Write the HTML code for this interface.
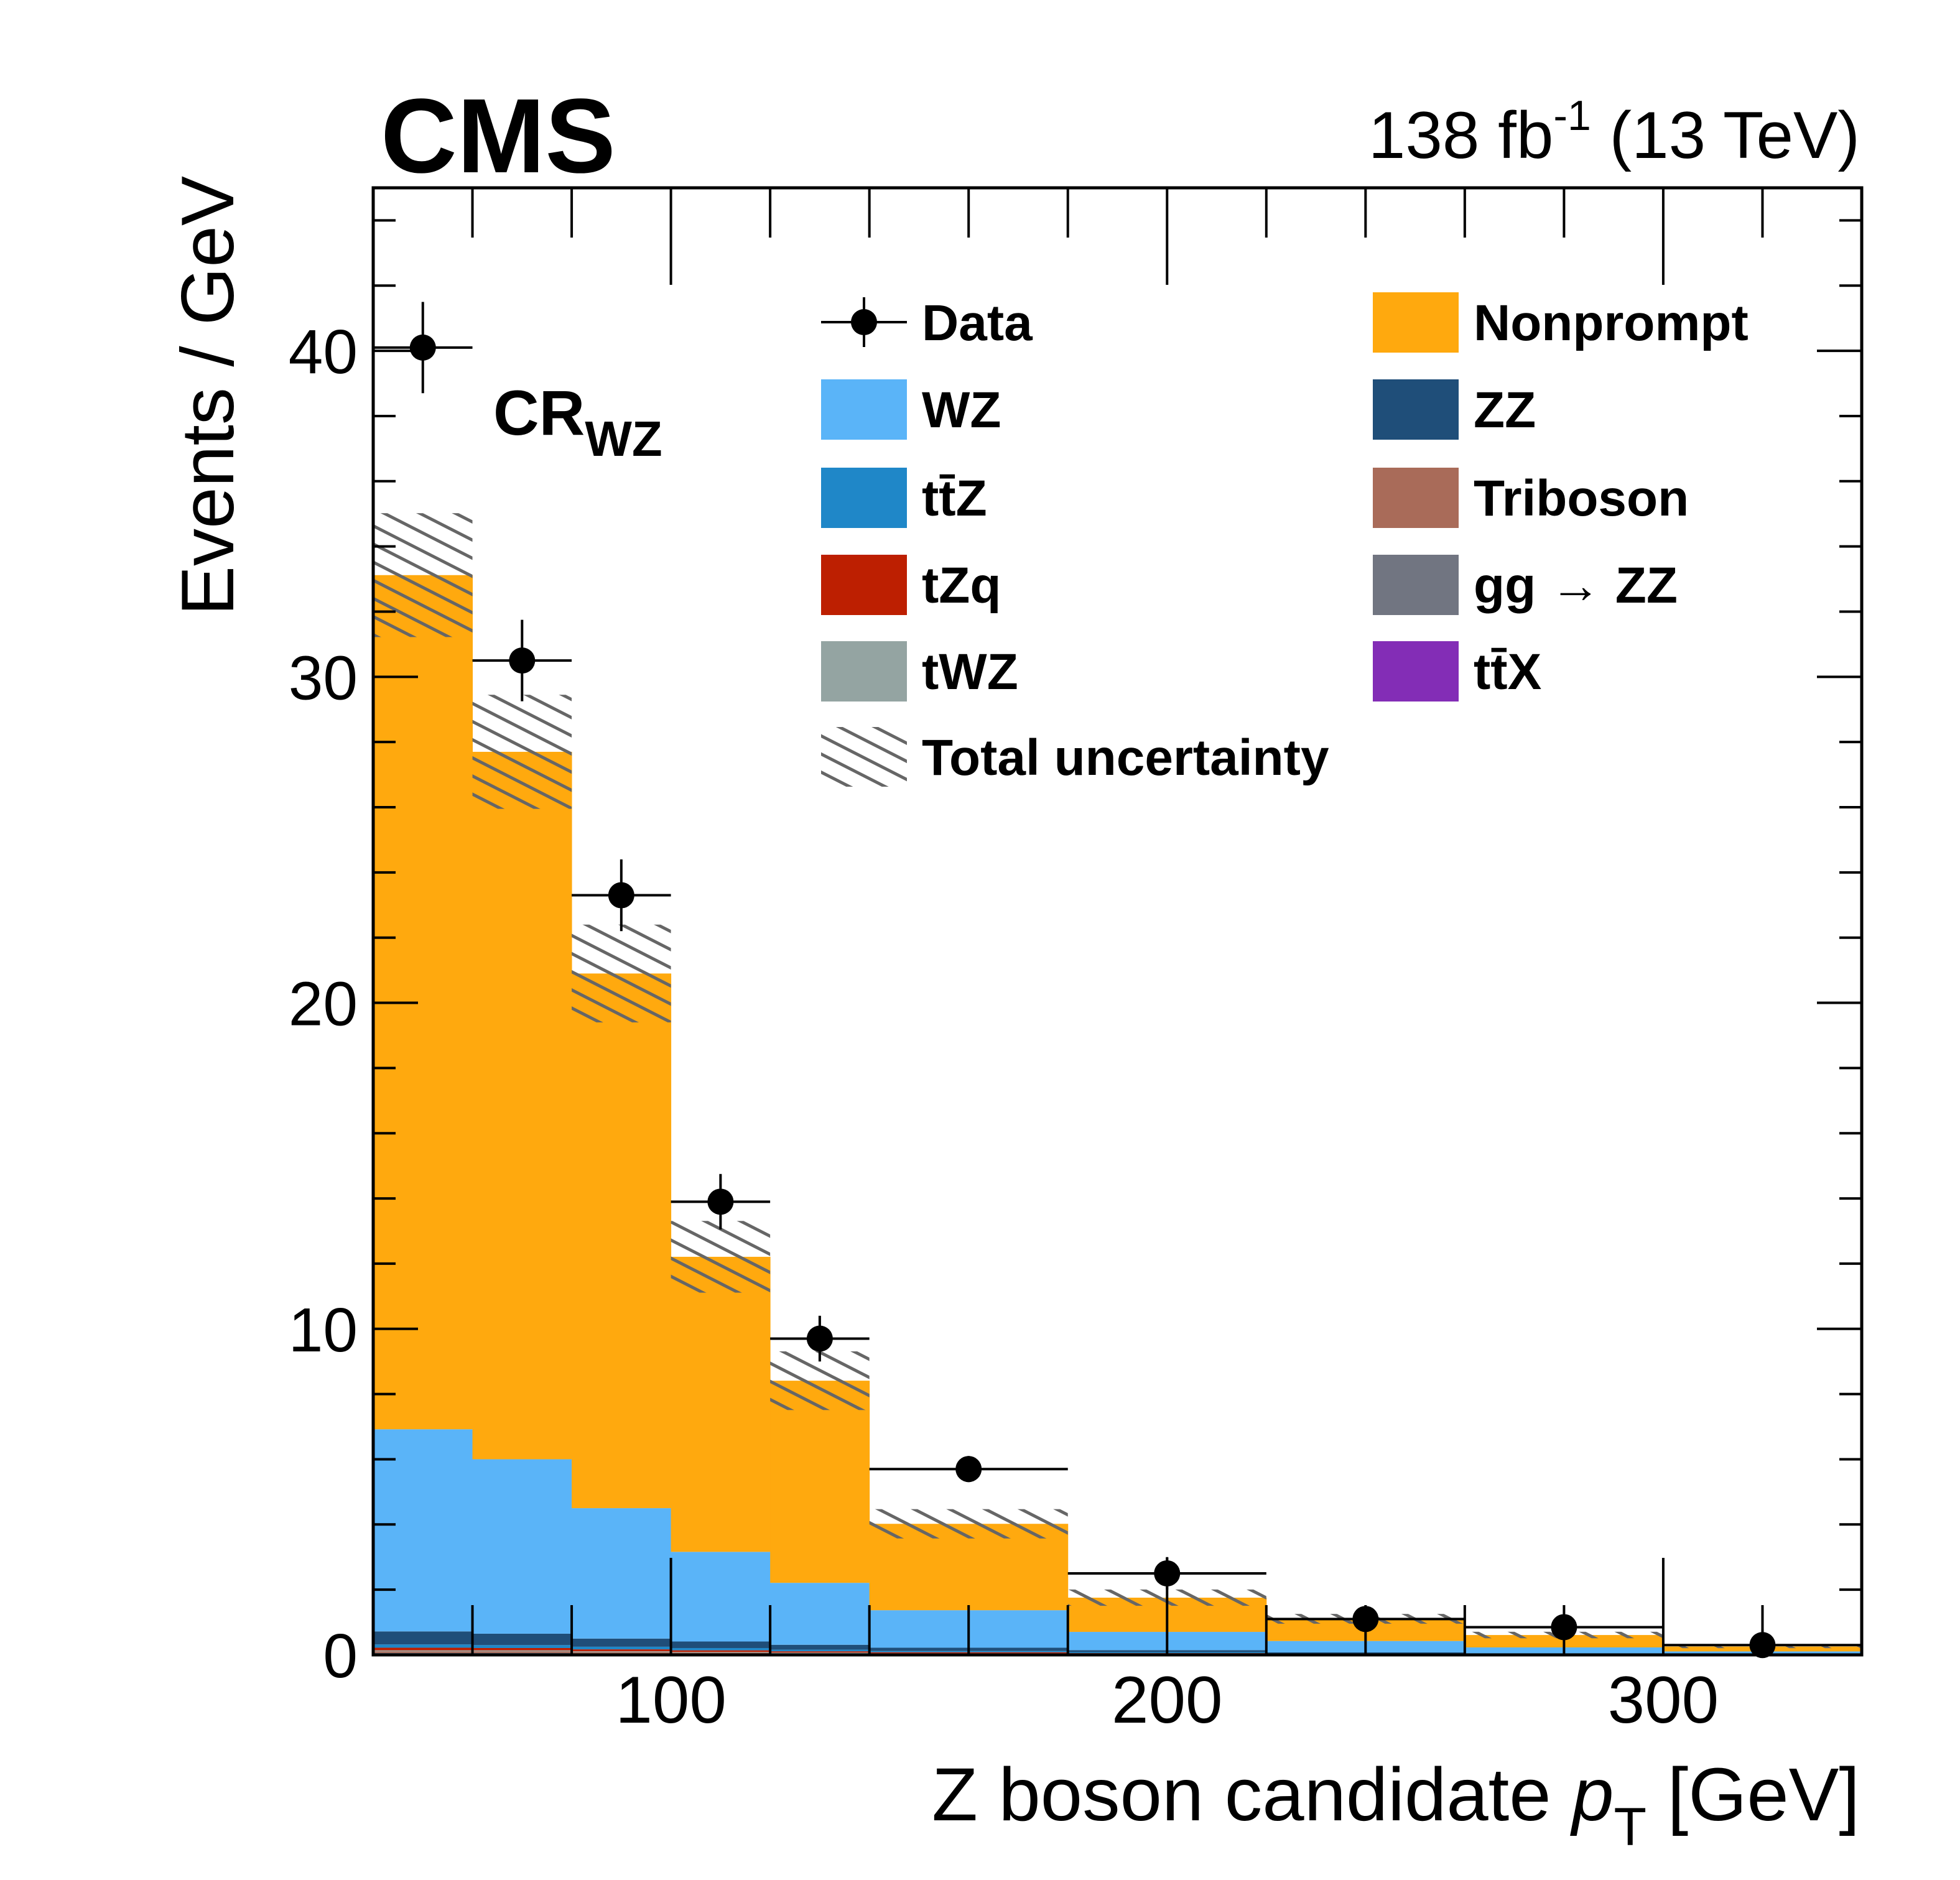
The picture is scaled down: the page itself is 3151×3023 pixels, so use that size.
<!DOCTYPE html>
<html><head><meta charset="utf-8"><style>
html,body{margin:0;padding:0;background:#fff}
svg{display:block}
text{font-family:"Liberation Sans",Arial,sans-serif}
</style></head><body>
<svg id="chart" width="3151" height="3023" viewBox="0 0 3151 3023" xmlns="http://www.w3.org/2000/svg">
<defs>
<pattern id="hatch" patternUnits="userSpaceOnUse" width="26" height="26" patternTransform="rotate(27)">
<line x1="0" y1="13" x2="26" y2="13" stroke="#666" stroke-width="5"/>
</pattern>
<clipPath id="frameclip"><rect x="600" y="302" width="2393" height="2359"/></clipPath>
</defs>
<g id="stack" clip-path="url(#frameclip)"></g>
<g id="unc" clip-path="url(#frameclip)"></g>
<g id="axes"></g>
<g id="data"></g>
<text x="612" y="277" font-size="170" font-weight="bold">CMS</text>
<text x="2990" y="254" font-size="107" text-anchor="end">138 fb<tspan dy="-45" font-size="68">-1</tspan><tspan dy="45"> (13 TeV)</tspan></text>
<text x="793" y="699" font-size="102" font-weight="bold">CR<tspan dy="34" font-size="80">WZ</tspan></text>
<text x="2990" y="2927" font-size="121" text-anchor="end">Z boson candidate <tspan font-style="italic">p</tspan><tspan dy="40" font-size="86">T</tspan><tspan dy="-40"> [GeV]</tspan></text>
<text transform="translate(375,990) rotate(-90)" font-size="120">Events / GeV</text>
<g id="legend"></g>
</svg>
<script>
const binEdges=[40,60,80,100,120,140,180,220,260,300,340];
const ttX=[0.03,0.03,0.02,0.02,0.01,0.01,0.01,0.005,0.003,0.002];
const ggZZ=[0.03,0.03,0.02,0.02,0.01,0.01,0.005,0.003,0.002,0.001];
const triboson=[0.05,0.05,0.04,0.03,0.03,0.02,0.01,0.008,0.005,0.003];
const tWZ=[0.03,0.03,0.03,0.02,0.02,0.01,0.01,0.005,0.003,0.002];
const tZq=[0.08,0.07,0.06,0.05,0.04,0.03,0.02,0.01,0.006,0.003];
const ttZ=[0.1,0.09,0.08,0.07,0.05,0.04,0.03,0.015,0.01,0.005];
const ZZ=[0.4,0.35,0.25,0.2,0.15,0.1,0.06,0.03,0.02,0.01];
const WZ=[6.2,5.35,4.0,2.75,1.9,1.15,0.56,0.35,0.18,0.08];
const nonprompt=[26.2,21.7,16.4,9.05,6.2,2.65,1.05,0.68,0.38,0.15];
const uncert=[1.9,1.75,1.5,1.1,0.9,0.45,0.25,0.15,0.1,0.05];
const dataVals=[40.1,30.5,23.3,13.9,9.7,5.7,2.5,1.1,0.85,0.3];
const dataErr=[1.4,1.25,1.1,0.85,0.7,0.4,0.5,0.3,0.35,0.5];
const yTicks=[0,10,20,30,40];
const xTicks=[100,200,300];

const NS="http://www.w3.org/2000/svg";
const X0=600,X1=2993,Y0=2661,Y1=302,xmin=40,xmax=340,ymax=45;
function xs(v){return X0+(v-xmin)/(xmax-xmin)*(X1-X0);}
function ys(v){return Y0-v/ymax*(Y0-Y1);}
function mk(tag,attrs,parent){const e=document.createElementNS(NS,tag);for(const k in attrs)e.setAttribute(k,attrs[k]);parent.appendChild(e);return e;}

const procs=[
 {name:"ttx",vals:ttX,color:"#832db6"},
 {name:"gg-zz",vals:ggZZ,color:"#717581"},
 {name:"triboson",vals:triboson,color:"#a96b59"},
 {name:"twz",vals:tWZ,color:"#94a4a2"},
 {name:"tzq",vals:tZq,color:"#bd1f01"},
 {name:"ttz",vals:ttZ,color:"#1f87c8"},
 {name:"zz",vals:ZZ,color:"#1f4e79"},
 {name:"wz",vals:WZ,color:"#5ab4f8"},
 {name:"nonprompt",vals:nonprompt,color:"#ffa90e"}
];
const stack=document.getElementById('stack');
const cum=new Array(dataVals.length).fill(0);
procs.forEach(p=>{
 for(let i=0;i<p.vals.length;i++){
  const lo=cum[i],hi=cum[i]+p.vals[i];
  const r=mk('rect',{x:xs(binEdges[i]),y:ys(hi),width:xs(binEdges[i+1])-xs(binEdges[i])+0.5,height:ys(lo)-ys(hi),fill:p.color},stack);
  
  
  cum[i]=hi;
 }
});
const unc=document.getElementById('unc');
for(let i=0;i<cum.length;i++){
 const r=mk('rect',{x:xs(binEdges[i]),y:ys(cum[i]+uncert[i]),width:xs(binEdges[i+1])-xs(binEdges[i]),height:ys(cum[i]-uncert[i])-ys(cum[i]+uncert[i]),fill:"url(#hatch)"},unc);
 
 
}
const ax=document.getElementById('axes');
for(let v=0;v<=ymax;v+=2){
 const len=(v%10===0)?72:36;
 mk('line',{x1:X0,x2:X0+len,y1:ys(v),y2:ys(v),stroke:"#000","stroke-width":4},ax);
 mk('line',{x1:X1,x2:X1-len,y1:ys(v),y2:ys(v),stroke:"#000","stroke-width":4},ax);
}
for(let v=60;v<xmax;v+=20){
 const len=(v%100===0)?156:80;
 mk('line',{x1:xs(v),x2:xs(v),y1:Y0,y2:Y0-len,stroke:"#000","stroke-width":4},ax);
 mk('line',{x1:xs(v),x2:xs(v),y1:Y1,y2:Y1+len,stroke:"#000","stroke-width":4},ax);
}
mk('rect',{x:X0,y:Y1,width:X1-X0,height:Y0-Y1,fill:"none",stroke:"#000","stroke-width":5},ax);
yTicks.forEach(v=>{
 const t=mk('text',{x:575,y:ys(v)+36,"font-size":100,"text-anchor":"end"},ax);t.textContent=v;
 
 
});
xTicks.forEach(v=>{
 const t=mk('text',{x:xs(v),y:2770,"font-size":107,"text-anchor":"middle"},ax);t.textContent=v;
 
 
});
const dg=document.getElementById('data');
for(let i=0;i<dataVals.length;i++){
 const cx=xs((binEdges[i]+binEdges[i+1])/2),cy=ys(dataVals[i]);
 const g=mk('g',{},dg);
 
 
 mk('line',{x1:xs(binEdges[i]),x2:xs(binEdges[i+1]),y1:cy,y2:cy,stroke:"#000","stroke-width":4},g);
 mk('line',{x1:cx,x2:cx,y1:ys(dataVals[i]+dataErr[i]),y2:ys(Math.max(0,dataVals[i]-dataErr[i])),stroke:"#000","stroke-width":4},g);
 mk('circle',{cx:cx,cy:cy,r:21,fill:"#000"},g);
}
const lg=document.getElementById('legend');
const legItems=[
 ["data","Data",1320,518,null],["wz","WZ",1320,658,"#5ab4f8"],["ttz","tt\u0304Z",1320,800,"#1f87c8"],["tzq","tZq",1320,940,"#bd1f01"],["twz","tWZ",1320,1079,"#94a4a2"],["unc","Total uncertainty",1320,1217,"hatch"],
 ["nonprompt","Nonprompt",2207,518,"#ffa90e"],["zz","ZZ",2207,658,"#1f4e79"],["triboson","Triboson",2207,800,"#a96b59"],["gg-zz","gg \u2192 ZZ",2207,940,"#717581"],["ttx","tt\u0304X",2207,1079,"#832db6"]
];
legItems.forEach(it=>{
 const [id,label,x,y,col]=it;
 const g=mk('g',{},lg);
 
 
 if(col===null){
  mk('line',{x1:x,x2:x+138,y1:y,y2:y,stroke:"#000","stroke-width":4},g);
  mk('line',{x1:x+69,x2:x+69,y1:y-40,y2:y+40,stroke:"#000","stroke-width":4},g);
  mk('circle',{cx:x+69,cy:y,r:21,fill:"#000"},g);
 } else if(col==="hatch"){
  mk('rect',{x:x,y:y-48,width:138,height:96,fill:"url(#hatch)"},g);
 } else {
  mk('rect',{x:x,y:y-48,width:138,height:97,fill:col},g);
 }
 const t=mk('text',{x:x+162,y:y+29,"font-size":82,"font-weight":"bold"},g);
 t.textContent=label;
});
</script>
</body></html>
